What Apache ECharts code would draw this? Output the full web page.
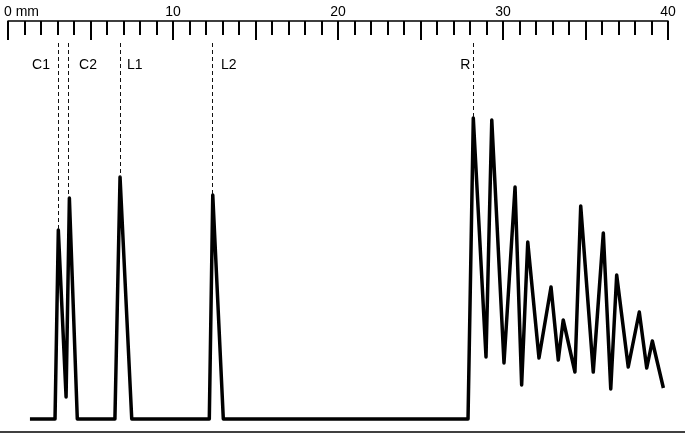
<!DOCTYPE html>
<html>
<head>
<meta charset="utf-8">
<script src="https://cdn.jsdelivr.net/npm/echarts@6/dist/echarts.min.js"></script>
<style>
html,body{margin:0;padding:0;background:#fff;}
#chart{width:685px;height:436px;}
</style>
</head>
<body>
<div id="chart"></div>
<script>
// Trace: position along the strip (mm) and signal height (arbitrary units)
var tracePos = [1.33, 2.85, 3.05, 3.52, 3.72, 4.2, 6.48, 6.79, 7.5, 12.2, 12.41, 13.05,
  27.88, 28.2, 28.97, 29.32, 30.06, 30.73, 31.13, 31.5, 32.18, 32.91, 33.35, 33.65,
  34.36, 34.71, 35.47, 36.08, 36.53, 36.89, 37.59, 38.26, 38.71, 39.05, 39.72];
var traceVal = [0, 0, 189, 22, 221, 0, 0, 242, 0, 0, 224, 0,
  0, 301, 62, 299, 56, 232, 34, 177, 61, 132, 59, 99,
  47, 213, 47, 186, 30, 144, 52, 107, 51, 78, 31];

// Marked peaks
var peakNames = ['C1', 'C2', 'L1', 'L2', 'R'];
var peakPos = [3.03, 3.64, 6.79, 12.36, 28.2];
var peakHeights = [189, 221, 242, 224, 301];

// Ruler
var rulerMin = 0, rulerMax = 40;

var markerTop = 376;   // top of dashed marker lines (value units)
var labelLevel = 354;  // vertical level of the peak labels
var labelSide = {C1: ['left', 8], C2: ['right', 11], L1: ['right', 7], L2: ['right', 9], R: ['left', 3]};

var traceData = tracePos.map(function (p, i) { return [p, traceVal[i]]; });
var markerLines = peakPos.map(function (p, i) {
  return [{coord: [p, markerTop]}, {coord: [p, peakHeights[i]]}];
});
var labelData = peakNames.map(function (n, i) {
  return {
    name: n,
    value: [peakPos[i], labelLevel],
    label: {position: labelSide[n][0], distance: labelSide[n][1]}
  };
});

var font = 'Liberation Sans, Arial, sans-serif';
var chart = echarts.init(document.getElementById('chart'), null, {renderer: 'canvas'});
chart.setOption({
  animation: false,
  backgroundColor: '#ffffff',
  grid: {left: 8, right: 17, top: 21, bottom: 4, containLabel: false},
  xAxis: [
    {type: 'value', position: 'bottom', min: rulerMin, max: rulerMax,
     axisLine: {show: false}, axisTick: {show: false}, axisLabel: {show: false}, splitLine: {show: false}},
    {type: 'value', position: 'top', min: rulerMin, max: rulerMax, interval: 5,
     axisLine: {show: true, lineStyle: {color: '#000', width: 1.5}},
     axisTick: {show: true, inside: true, length: 19, lineStyle: {color: '#000', width: 2}},
     minorTick: {show: true, splitNumber: 5, length: 14, lineStyle: {color: '#000', width: 2}},
     axisLabel: {
       show: true, margin: 2, color: '#000', fontSize: 14, fontFamily: font,
       formatter: function (v) {
         if (v % 10 !== 0) return '';
         return v === 0 ? '{first|0 mm}' : String(v);
       },
       rich: {first: {fontSize: 14, fontFamily: font, color: '#000', padding: [0, 0, 0, 27]}}
     },
     splitLine: {show: false}}
  ],
  yAxis: {type: 'value', min: -13, max: 398, show: false, splitLine: {show: false}},
  graphic: [{
    type: 'line', shape: {x1: 0, y1: 432, x2: 685, y2: 432},
    style: {stroke: '#000', lineWidth: 1.5}, silent: true
  }],
  series: [
    {
      type: 'line', xAxisIndex: 0, data: traceData, showSymbol: false, symbol: 'none',
      lineStyle: {color: '#000', width: 3.5, join: 'round'},
      markLine: {
        silent: true, symbol: 'none', label: {show: false},
        lineStyle: {color: '#111', width: 1, type: [4, 3], opacity: 1},
        data: markerLines
      },
      z: 3
    },
    {
      type: 'scatter', xAxisIndex: 0, data: labelData, symbolSize: 0,
      itemStyle: {opacity: 1, color: '#000'},
      label: {show: true, formatter: '{b}', color: '#000', opacity: 1, fontSize: 14, fontFamily: font},
      silent: true
    }
  ]
});
</script>
</body>
</html>
